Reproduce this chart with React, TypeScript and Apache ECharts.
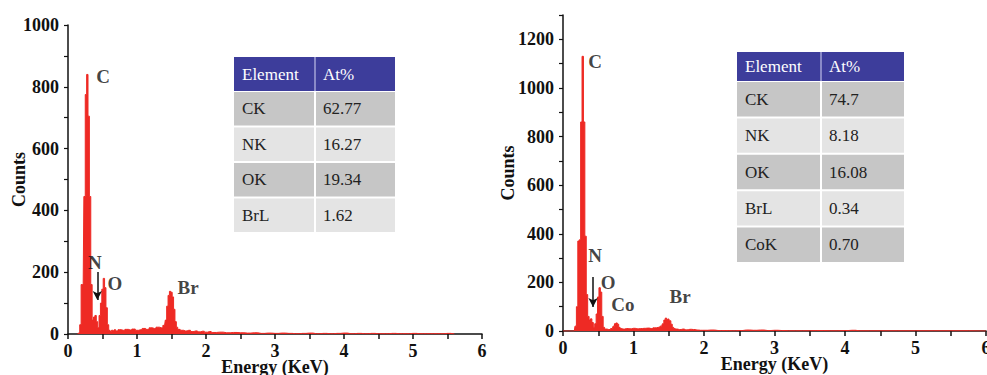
import React, { useEffect, useRef } from "react";
import * as echarts from "echarts";

// ---------- Data ----------
const energyL = [0.14,0.16,0.18,0.20,0.22,0.24,0.26,0.28,0.30,0.32,0.34,0.36,0.38,0.40,0.42,0.44,0.46,0.48,0.50,0.52,0.54,0.56,0.58,0.60,0.62,0.64,0.66,0.68,0.70,
  0.75,0.80,0.85,0.90,0.95,1.00,1.05,1.10,1.15,1.20,1.25,1.30,1.35,1.40,
  1.42,1.44,1.46,1.48,1.50,1.52,1.54,1.56,1.58,1.60,
  1.65,1.70,1.75,1.80,1.85,1.90,1.95,2.00,2.05,2.10,
  2.2,2.3,2.4,2.5,2.6,2.7,2.8,2.9,3.0,3.1,3.2,3.3,3.4,3.5,3.6,3.7,3.8,3.9,4.0,4.1,4.2,4.3,4.4,4.5,4.6,4.7,4.8,4.9,5.0,5.1,5.2,5.3,5.4,5.5,5.6];
const countsL = [0,3,30,160,162,445,775,840,705,445,160,45,55,60,40,20,60,100,145,180,150,85,30,12,8,12,10,14,10,
  14,12,15,13,16,12,14,18,15,20,18,22,20,28,
  45,90,125,138,135,120,80,40,22,15,
  12,10,12,8,10,7,9,6,8,5,
  6,4,5,4,3,4,2,3,2,3,2,1,2,3,1,2,1,2,3,1,2,1,2,1,1,2,1,1,2,1,1,1,1,2,0];

const energyR = [0.00,
  0.16,0.18,0.20,0.22,0.24,0.26,0.28,0.30,0.32,0.34,0.36,0.38,0.40,0.42,0.44,0.46,0.48,0.50,0.52,0.54,0.56,0.58,0.60,
  0.65,0.70,
  0.72,0.74,0.76,0.78,0.80,0.82,
  0.85,0.90,0.95,1.00,1.05,1.10,1.15,1.20,1.25,1.30,1.35,1.40,
  1.42,1.44,1.46,1.48,1.50,1.52,1.54,1.56,1.58,1.60,
  1.65,1.70,1.75,1.80,1.85,1.90,1.95,2.00,
  2.1,2.2,2.3,2.4,2.5,2.6,2.7,2.8,2.9,3.0,3.1,3.2,
  3.4,3.6,3.8,4.0,4.1,4.2,4.5,5.0,5.5,6.0];
const countsR = [0,
  0,20,100,370,375,860,1130,860,390,150,60,45,50,35,15,30,70,140,178,160,60,15,8,
  6,10,
  20,30,33,28,15,10,
  8,10,9,11,9,10,11,12,10,13,15,20,
  30,45,53,48,50,42,28,15,10,8,
  6,8,5,7,6,4,3,3,
  4,2,2,1,2,4,3,4,2,3,2,1,
  1,2,1,2,3,1,1,1,1,0];

const yTicksL = [0, 1000, 100];
const yTicksR = [0, 1300, 100];

const tableHead = ["Element", "At%"];
const tableElementsL = ["CK", "NK", "OK", "BrL"];
const tableAtL = ["62.77", "16.27", "19.34", "1.62"];
const tableElementsR = ["CK", "NK", "OK", "BrL", "CoK"];
const tableAtR = ["74.7", "8.18", "16.08", "0.34", "0.70"];

// annotation labels: [name, energy, counts]
const labelsL: [string, number, number][] = [["C", 0.51, 832], ["N", 0.39, 233], ["O", 0.68, 165], ["Br", 1.74, 152]];
const arrowL = [0.425, 201, 110];
const labelsR: [string, number, number][] = [["C", 0.454, 1110], ["N", 0.454, 312], ["O", 0.64, 201], ["Co", 0.85, 111], ["Br", 1.66, 140]];
const arrowR = [0.426, 222, 99];

// ---------- Styles ----------
const SERIF = "Liberation Serif";
const RED = "#ee2a24";

function makeTable(x: number, y: number, w1: number, w2: number, headH: number, rowH: number, els: string[], vals: string[]) {
  const out: any[] = [];
  const txt = (tx: number, ty: number, text: string, fill: string) => ({
    type: "text", x: tx, y: ty,
    style: { text, fill, fontFamily: SERIF, fontSize: 17, verticalAlign: "middle" },
  });
  out.push({ type: "rect", shape: { x, y, width: w1 + w2 + 2, height: headH }, style: { fill: "#3d3d9b" } });
  out.push({ type: "rect", shape: { x: x + w1, y, width: 2, height: headH }, style: { fill: "#8a8ac8" } });
  out.push(txt(x + 8, y + headH / 2, tableHead[0], "#ffffff"));
  out.push(txt(x + w1 + 9, y + headH / 2, tableHead[1], "#ffffff"));
  els.forEach((e, i) => {
    const ry = y + headH + 1 + i * rowH;
    const fill = i % 2 === 0 ? "#c6c6c6" : "#e4e4e4";
    out.push({ type: "rect", shape: { x, y: ry, width: w1, height: rowH - 2 }, style: { fill } });
    out.push({ type: "rect", shape: { x: x + w1 + 2, y: ry, width: w2, height: rowH - 2 }, style: { fill } });
    out.push(txt(x + 8, ry + (rowH - 2) / 2, e, "#222"));
    out.push(txt(x + w1 + 9, ry + (rowH - 2) / 2, vals[i], "#222"));
  });
  return out;
}

function xAxisCfg(gridIndex: number) {
  return {
    type: "value", gridIndex, min: 0, max: 6, interval: 0.5,
    name: "Energy (KeV)", nameLocation: "middle", nameGap: 24, nameMoveOverlap: false,
    nameTextStyle: { fontFamily: SERIF, fontWeight: "bold", fontSize: 18, color: "#111" },
    axisLine: { lineStyle: { color: "#111", width: 1.5 } },
    axisTick: { length: 5, lineStyle: { color: "#111", width: 1.5 } },
    axisLabel: {
      margin: 8, fontFamily: SERIF, fontWeight: "bold", fontSize: 18, color: "#111",
      formatter: (v: number) => (Math.abs(v - Math.round(v)) < 1e-6 ? String(Math.round(v)) : ""),
    },
    splitLine: { show: false },
  };
}

function yAxisCfg(gridIndex: number, t: number[], gap: number) {
  return {
    type: "value", gridIndex, min: t[0], max: t[1], interval: t[2],
    name: "Counts", nameLocation: "middle", nameGap: gap, nameRotate: 90, nameMoveOverlap: false,
    nameTextStyle: { fontFamily: SERIF, fontWeight: "bold", fontSize: 18, color: "#111" },
    axisLine: { show: true, lineStyle: { color: "#111", width: 1.5 } },
    axisTick: { show: true, length: 4, lineStyle: { color: "#111", width: 1.2 } },
    axisLabel: {
      margin: 9, fontFamily: SERIF, fontWeight: "bold", fontSize: 18, color: "#111",
      formatter: (v: number) => (v % 200 === 0 ? String(v) : ""),
    },
    splitLine: { show: false },
  };
}

function spectrum(idx: number, xs: number[], ys: number[]) {
  return {
    type: "line", xAxisIndex: idx, yAxisIndex: idx,
    data: xs.map((x, i) => [x, ys[i]]),
    step: "middle", showSymbol: false, symbol: "none",
    lineStyle: { color: RED, width: 1 }, areaStyle: { color: RED, opacity: 1 },
    itemStyle: { color: RED }, z: 3,
  };
}

function annotations(idx: number, labels: [string, number, number][], arrow: number[]) {
  return {
    type: "scatter", xAxisIndex: idx, yAxisIndex: idx, symbolSize: 0, z: 5,
    data: labels.map(([n, x, y]) => ({ name: n, value: [x, y] })),
    label: { show: true, position: "inside", formatter: "{b}", fontFamily: SERIF, fontWeight: "bold", fontSize: 19, color: "#111" },
    markLine: {
      silent: true, symbol: ["none", "arrow"], symbolSize: [7, 9],
      lineStyle: { color: "#111", width: 1.5, type: "solid" }, label: { show: false },
      data: [[{ coord: [arrow[0], arrow[1]] }, { coord: [arrow[0], arrow[2]] }]],
    },
  };
}

export default function App() {
  const ref = useRef<HTMLDivElement>(null);
  useEffect(() => {
    if (!ref.current) return;
    const chart = echarts.init(ref.current, undefined, { renderer: "svg" });
    chart.setOption({
      animation: false,
      backgroundColor: "#ffffff",
      grid: [
        { left: 68, top: 25, width: 414, height: 309, outerBoundsMode: "none", containLabel: false },
        { left: 563, top: 15, width: 423, height: 316, outerBoundsMode: "none", containLabel: false },
      ],
      xAxis: [xAxisCfg(0), xAxisCfg(1)],
      yAxis: [yAxisCfg(0, yTicksL, 40), yAxisCfg(1, yTicksR, 46)],
      series: [
        spectrum(0, energyL, countsL),
        spectrum(1, energyR, countsR),
        annotations(0, labelsL, arrowL),
        annotations(1, labelsR, arrowR),
      ],
      graphic: [
        ...makeTable(234, 57, 80, 79, 34, 35.5, tableElementsL, tableAtL),
        ...makeTable(737, 52, 83, 82, 29, 36.4, tableElementsR, tableAtR),
      ],
    });
    return () => chart.dispose();
  }, []);
  return <div ref={ref} style={{ position: "absolute", left: 0, top: 0, width: 987, height: 375 }} />;
}
